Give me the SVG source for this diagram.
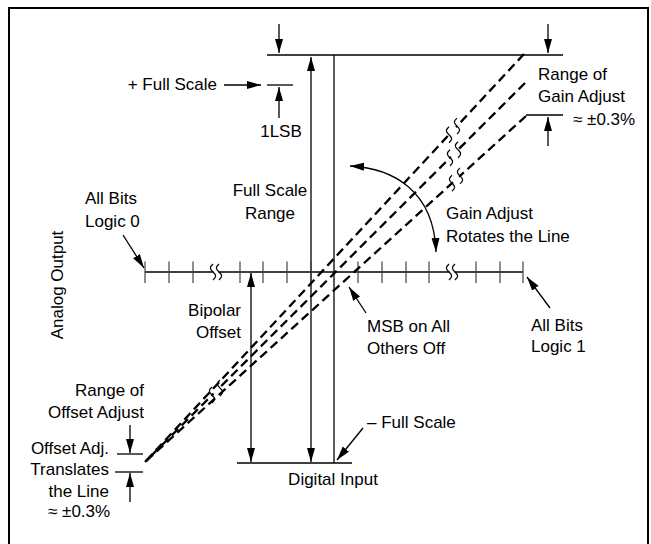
<svg xmlns="http://www.w3.org/2000/svg" width="651" height="544" viewBox="0 0 651 544">
<style>
.t{font-family:"Liberation Sans",Arial,sans-serif;font-size:17px;fill:#000}
.e{text-anchor:end}
.m{text-anchor:middle}
.l{stroke:#000;stroke-width:1.3;fill:none}
.a{stroke:#000;stroke-width:1.3;fill:none;marker-end:url(#ah)}
.b{stroke:#000;stroke-width:1.3;fill:none;marker-start:url(#ah);marker-end:url(#ah)}
.d{stroke:#000;stroke-width:2.3;fill:none;stroke-dasharray:9 5}
.k{stroke:#444;stroke-width:1.2}
.s{stroke:#000;stroke-width:1.2;fill:none}
.w{stroke:#fff;stroke-width:4;fill:none}
</style>
<defs>
<marker id="ah" markerUnits="userSpaceOnUse" markerWidth="15" markerHeight="9" refX="14" refY="4" orient="auto-start-reverse" viewBox="0 0 15 9">
<path d="M0,0 L14,4 L0,8 z" fill="#000"/>
</marker>
<path id="sq" d="M0,-8 c-3.5,3 -3.5,5 0,8 c3.5,3 3.5,5 0,8"/>
</defs>
<rect x="9" y="8" width="639" height="545" fill="#fff" stroke="#000" stroke-width="2"/>
<g id="connectors">
<path class="l" d="M267,55 H563"/>
<path class="l" d="M267,85 H293"/>
<path class="a" d="M279,24 V53"/>
<path class="a" d="M279,118 V87"/>
<path class="a" d="M224,85 H261"/>
<path class="b" d="M311,57 V462"/>
<path class="l" d="M334,55 V463"/>
<path class="l" d="M237,463 H352"/>
<path class="b" d="M251,273 V462"/>
<path class="a" d="M363,428 L337,460"/>
<path class="a" d="M548,24 V53"/>
<path class="a" d="M548,146 V117"/>
<path class="l" d="M526,115 H563"/>
<path class="l" d="M117,454 H143"/>
<path class="l" d="M115,472 H143"/>
<path class="a" d="M130,425 V453"/>
<path class="a" d="M130,502 V473"/>
<path class="a" d="M123,235 L144,268"/>
<path class="a" d="M550,308 L527,277"/>
<path class="a" d="M366,313 L349,287"/>
<path class="b" d="M350,166 C392,168 434,190 436,252"/>
</g>
<g id="axis">
<path class="l" d="M145,272 H523"/>
<path class="k" d="M145,261.5 V283 M169,261.5 V283 M193,261.5 V283 M240,261.5 V283 M263,261.5 V283 M287,261.5 V283 M311,261.5 V283 M358,261.5 V283 M382,261.5 V283 M406,261.5 V283 M429,261.5 V283 M476,261.5 V283 M500,261.5 V283 M523,261.5 V283"/>
<path class="w" d="M213.5,272 H218.5 M449.5,272 H454.5"/>
<use href="#sq" class="s" x="213" y="272"/>
<use href="#sq" class="s" x="219" y="272"/>
<use href="#sq" class="s" x="449" y="272"/>
<use href="#sq" class="s" x="455" y="272"/>
</g>
<g id="transfer-lines">
<path class="d" d="M524,54 L145,462"/>
<path class="d" d="M525,83 L145,462"/>
<path class="d" d="M526,116 L145,462"/>
<path class="w" d="M450,133.6 L456,127.2 M451,156.8 L457,150.8 M453,182.3 L459,176.8 M213.5,393.6 L218.5,389.6"/>
<use href="#sq" class="s" x="449" y="134.7"/>
<use href="#sq" class="s" x="457" y="126.1"/>
<use href="#sq" class="s" x="450" y="157.8"/>
<use href="#sq" class="s" x="458" y="149.8"/>
<use href="#sq" class="s" x="452" y="183.2"/>
<use href="#sq" class="s" x="460" y="175.9"/>
<use href="#sq" class="s" x="212" y="395"/>
<use href="#sq" class="s" x="220" y="388"/>
</g>
<g id="labels">
<text class="t e" x="217" y="90">+ Full Scale</text>
<text class="t m" x="281" y="137">1LSB</text>
<text class="t" x="538" y="80">Range of</text>
<text class="t" x="538" y="102">Gain Adjust</text>
<text class="t" x="573" y="125">≈ ±0.3%</text>
<text class="t m" x="270" y="196">Full Scale</text>
<text class="t m" x="270" y="219">Range</text>
<text class="t" x="85" y="204">All Bits</text>
<text class="t" x="85" y="227">Logic 0</text>
<text class="t" x="446" y="219">Gain Adjust</text>
<text class="t" x="446" y="242">Rotates the Line</text>
<text class="t m" transform="translate(63,285) rotate(-90)">Analog Output</text>
<text class="t e" x="241" y="316">Bipolar</text>
<text class="t e" x="241" y="338">Offset</text>
<text class="t" x="367" y="332">MSB on All</text>
<text class="t" x="367" y="354">Others Off</text>
<text class="t" x="531" y="331">All Bits</text>
<text class="t" x="531" y="352">Logic 1</text>
<text class="t e" x="144" y="396">Range of</text>
<text class="t e" x="144" y="418">Offset Adjust</text>
<text class="t e" x="109" y="454">Offset Adj.</text>
<text class="t e" x="109" y="475">Translates</text>
<text class="t e" x="109" y="497">the Line</text>
<text class="t" x="48" y="517">≈ ±0.3%</text>
<text class="t" x="367" y="428">– Full Scale</text>
<text class="t m" x="333" y="485">Digital Input</text>
</g>
</svg>
